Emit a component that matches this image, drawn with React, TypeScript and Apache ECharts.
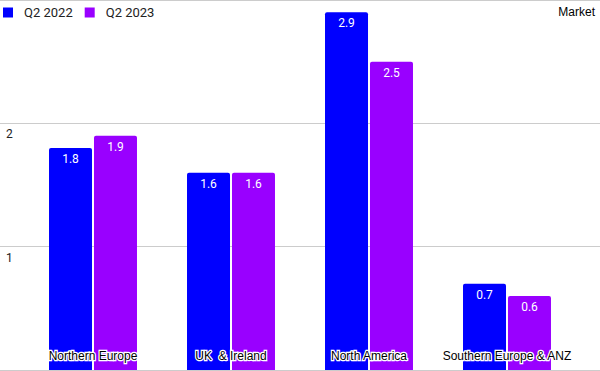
import React, { useEffect, useRef } from "react";
import * as echarts from "echarts";

const categories = ["Northern Europe", "UK  & Ireland", "North America", "Southern Europe & ANZ"];
const q2022 = [1.8, 1.6, 2.9, 0.7];
const q2023 = [1.9, 1.6, 2.5, 0.6];
const seriesNames = ["Q2 2022", "Q2 2023"];
const colors = ["#0000ff", "#9900ff"];

export default function App() {
  const ref = useRef<HTMLDivElement>(null);
  useEffect(() => {
    const chart = echarts.init(ref.current!, undefined, { renderer: "svg" });
    const font = "Roboto, 'Liberation Sans', Arial, sans-serif";
    const arial = "'Liberation Sans', Arial, sans-serif";
    chart.setOption({
      animation: false,
      textStyle: { fontFamily: font },
      title: {
        text: "Market",
        right: 0,
        top: 1,
        textStyle: { fontSize: 12, fontWeight: "normal", color: "#000", fontFamily: arial },
      },
      legend: {
        left: 3,
        top: 6,
        padding: 0,
        itemWidth: 10,
        itemHeight: 10,
        itemGap: 12,
        icon: "rect",
        textStyle: { fontSize: 13, color: "#222", fontFamily: font, padding: [0, 0, 0, 6] },
        data: seriesNames,
      },
      grid: [
        { left: 0, right: 0, top: 0, bottom: 1 },
        { left: 24, right: 24, top: 0, bottom: 1 },
      ],
      xAxis: [
        { gridIndex: 0, type: "category", data: categories, show: false },
        {
          gridIndex: 1,
          type: "category",
          data: categories,
          z: 10,
          axisLine: { show: false },
          axisTick: { show: false },
          axisLabel: {
            inside: true,
            margin: 8,
            fontSize: 12,
            color: "#000",
            fontFamily: arial,
            textBorderColor: "#fff",
            textBorderWidth: 2.5,
            interval: 0,
          },
        },
      ],
      yAxis: [
        {
          gridIndex: 0,
          type: "value",
          min: 0,
          max: 3,
          interval: 1,
          axisLine: { show: false },
          axisTick: { show: false },
          splitLine: { lineStyle: { color: "#cccccc", width: 1 } },
          axisLabel: {
            inside: true,
            margin: 6,
            fontSize: 12,
            color: "#222",
            verticalAlign: "top",
            padding: [5, 0, 0, 0],
            formatter: (v: number) => (v === 0 || v === 3 ? "" : String(v)),
          },
        },
        { gridIndex: 1, type: "value", min: 0, max: 3, show: false },
      ],
      series: [q2022, q2023].map((d, i) => ({
        name: seriesNames[i],
        type: "bar",
        xAxisIndex: 1,
        yAxisIndex: 1,
        data: d,
        barWidth: 43,
        barGap: "4.6%",
        itemStyle: { color: colors[i], borderRadius: [2, 2, 0, 0] },
        label: {
          show: true,
          position: "insideTop",
          distance: 5,
          color: "#fff",
          fontSize: 12,
          fontFamily: font,
        },
      })),
    });
    return () => chart.dispose();
  }, []);
  return <div ref={ref} style={{ width: 600, height: 371, position: "absolute", left: 0, top: 0 }} />;
}
